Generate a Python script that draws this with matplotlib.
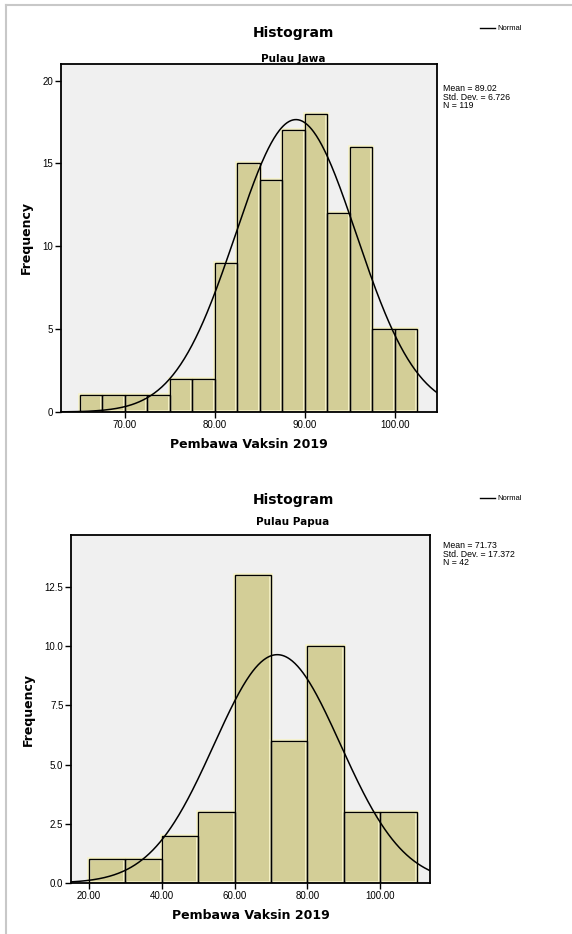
import numpy as np
import matplotlib
matplotlib.use("Agg")
import matplotlib.pyplot as plt
from matplotlib.lines import Line2D

# Pulau Jawa
jawa_edges = [65.0, 67.5, 70.0, 72.5, 75.0, 77.5, 80.0, 82.5, 85.0, 87.5, 90.0, 92.5, 95.0, 97.5, 100.0]
jawa_counts = [1, 1, 1, 1, 2, 2, 9, 15, 14, 17, 18, 12, 16, 5, 5]
jawa_width = 2.5
jawa_mean, jawa_sd, jawa_n = 89.02, 6.726, 119
jawa_xticks = [70, 80, 90, 100]
jawa_yticks = [0, 5, 10, 15, 20]
jawa_yticklabels = ["0", "5", "10", "15", "20"]

# Pulau Papua
papua_edges = [20, 30, 40, 50, 60, 70, 80, 90, 100]
papua_counts = [1, 1, 2, 3, 13, 6, 10, 3, 3]
papua_width = 10
papua_mean, papua_sd, papua_n = 71.73, 17.372, 42
papua_xticks = [20, 40, 60, 80, 100]
papua_yticks = [0, 2.5, 5.0, 7.5, 10.0, 12.5]
papua_yticklabels = ["0.0", "2.5", "5.0", "7.5", "10.0", "12.5"]

W, H = 572, 934
BAR = "#d3ce97"
BG = "#f0f0f0"
plt.rcParams['font.family'] = ['DejaVu Sans']


def px(x, y):
    return x / W, 1 - y / H


def draw_hist(ax, edges, counts, width, mean, sd, n, xlim, ylim, xticks, yticks, ylabels):
    ax.set_facecolor(BG)
    ax.bar(edges, counts, width=width, align='edge', color=BAR,
           edgecolor="#f7f3c8", linewidth=2.6, zorder=2)
    ax.bar(edges, counts, width=width, align='edge', color='none',
           edgecolor="black", linewidth=1.0, zorder=3)
    xs = np.linspace(xlim[0], xlim[1], 400)
    ys = n * width / (sd * np.sqrt(2 * np.pi)) * np.exp(-0.5 * ((xs - mean) / sd) ** 2)
    ax.plot(xs, ys, color="black", lw=1.1, zorder=4)
    ax.set_xlim(*xlim)
    ax.set_ylim(*ylim)
    ax.set_xticks(xticks)
    ax.set_xticklabels(["%.2f" % t for t in xticks], fontsize=7, family='Liberation Sans')
    ax.set_yticks(yticks)
    ax.set_yticklabels(ylabels, fontsize=7, family='Liberation Sans')
    ax.tick_params(direction='out', length=4, width=1, pad=1.5)
    for s in ax.spines.values():
        s.set_linewidth(1.3)
    ax.set_ylabel("Frequency", fontsize=9, fontweight='bold', labelpad=7)


fig = plt.figure(figsize=(W / 100, H / 100), dpi=100)

ax1 = fig.add_axes([61 / W, 1 - 412 / H, 376 / W, 348 / H])
draw_hist(ax1, jawa_edges, jawa_counts, jawa_width, jawa_mean, jawa_sd, jawa_n,
          (62.9, 104.7), (0, 21.0), jawa_xticks, jawa_yticks, jawa_yticklabels)
ax1.set_xlabel("Pembawa Vaksin 2019", fontsize=9, fontweight='bold', labelpad=6)

ax2 = fig.add_axes([71 / W, 1 - 883 / H, 359 / W, 348 / H])
draw_hist(ax2, papua_edges, papua_counts, papua_width, papua_mean, papua_sd, papua_n,
          (15.05, 113.7), (0, 14.7), papua_xticks, papua_yticks, papua_yticklabels)
ax2.set_xlabel("Pembawa Vaksin 2019", fontsize=9, fontweight='bold', labelpad=6)

# titles, legend, stats
for (ty, sy, name, ly, st_y, mean, sd, n) in [
        (33, 59, "Pulau Jawa", 28, 84, jawa_mean, jawa_sd, jawa_n),
        (500, 522, "Pulau Papua", 498, 541, papua_mean, papua_sd, papua_n)]:
    fig.text(*px(293, ty), "Histogram", ha='center', va='center', fontsize=10, fontweight='bold')
    fig.text(*px(293, sy), name, ha='center', va='center', fontsize=7.5, fontweight='bold')
    x0, y0 = px(480, ly)
    x1, _ = px(495, ly)
    fig.add_artist(Line2D([x0, x1], [y0, y0], color='black', lw=1.0, transform=fig.transFigure))
    fig.text(*px(497, ly), "Normal", ha='left', va='center', fontsize=5.5, family='Liberation Sans')
    sd_txt = ("%.3f" % sd)
    fig.text(*px(443, st_y), "Mean = %.2f\nStd. Dev. = %s\nN = %d" % (mean, sd_txt, n),
             ha='left', va='top', fontsize=6.3, family='Liberation Sans', linespacing=0.95)

# outer border
fig.add_artist(Line2D([px(6, 0)[0], px(6, 0)[0]], [px(0, 5)[1], 0], color='#c8c8c8', lw=1.5,
                      transform=fig.transFigure))
fig.add_artist(Line2D([px(6, 0)[0], 1], [px(0, 5)[1], px(0, 5)[1]], color='#c8c8c8', lw=1.5,
                      transform=fig.transFigure))

fig.savefig("out.png", dpi=100)
